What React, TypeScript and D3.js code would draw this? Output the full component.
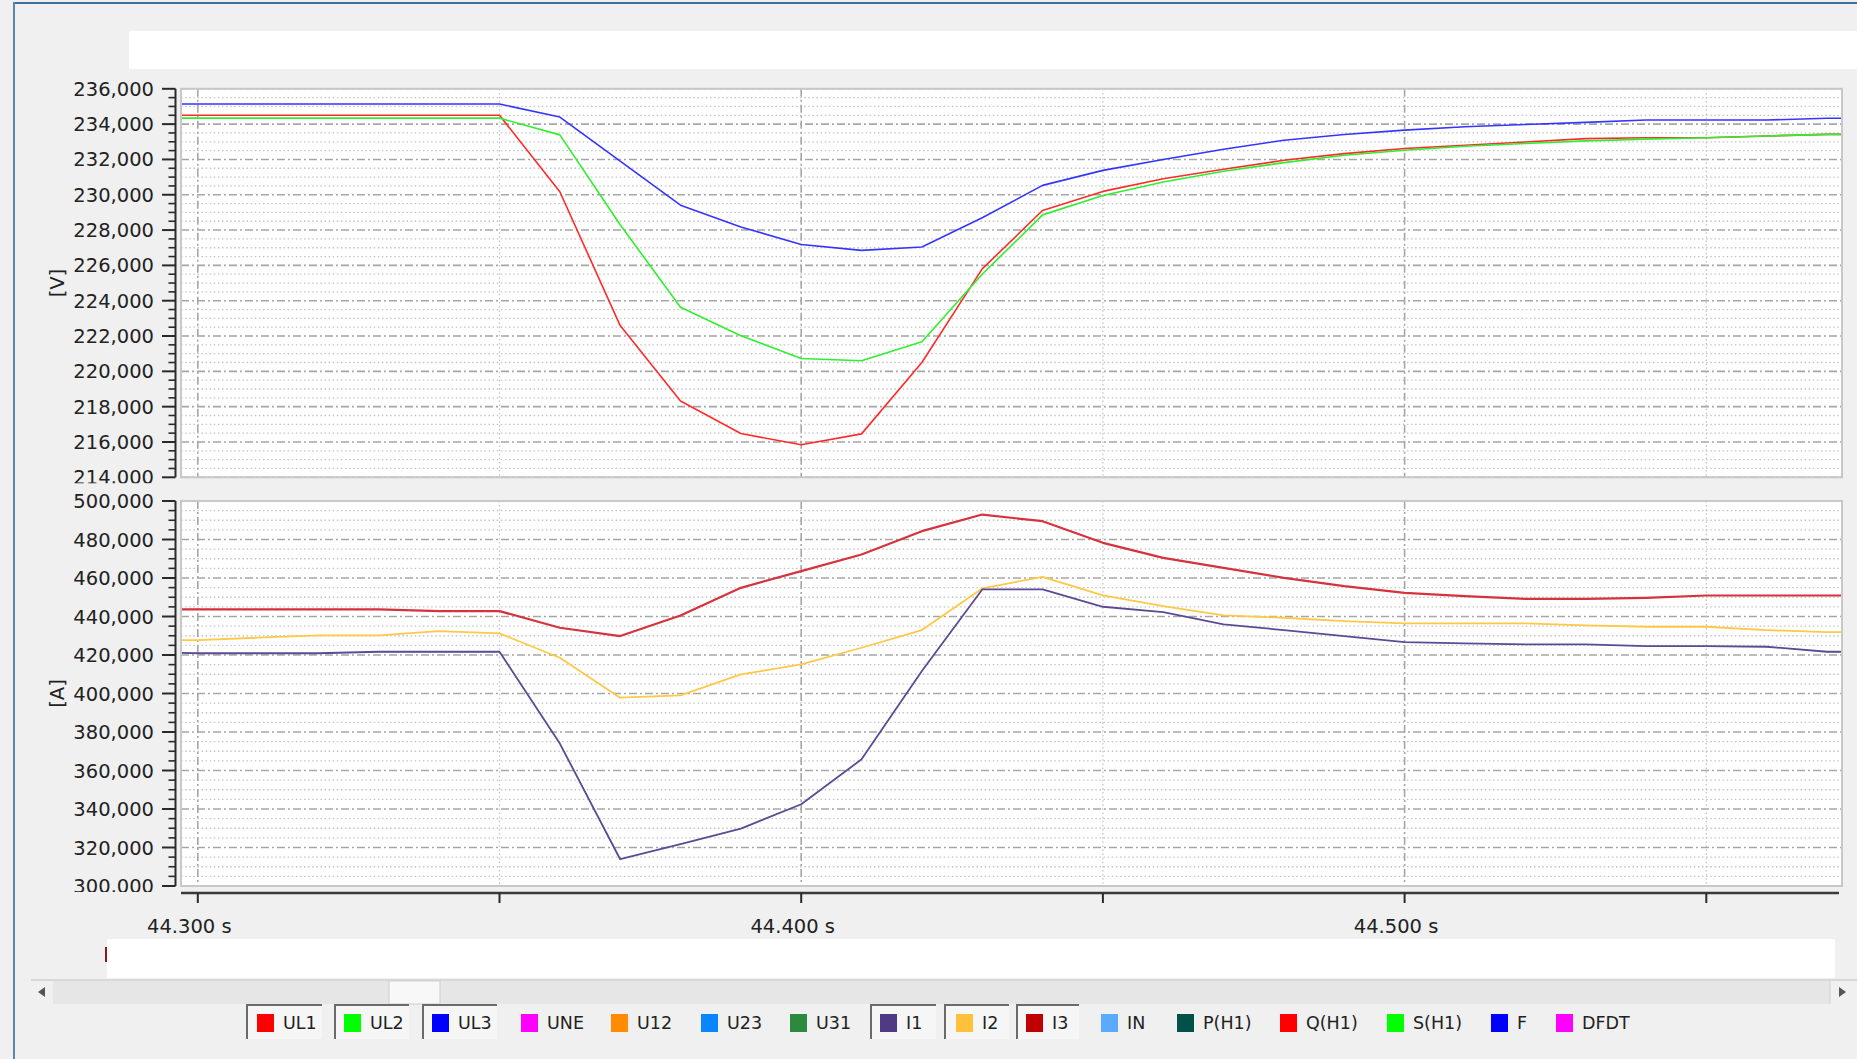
import React from "react";
import * as d3 from "d3";

// ---------- data ----------
const times = [44.29, 44.30, 44.31, 44.32, 44.33, 44.34, 44.35, 44.36, 44.37, 44.38, 44.39, 44.40, 44.41, 44.42, 44.43, 44.44, 44.45, 44.46, 44.47, 44.48, 44.49, 44.50, 44.51, 44.52, 44.53, 44.54, 44.55, 44.56, 44.57, 44.58];

// voltages [V]
const ul1 = [234.50, 234.50, 234.50, 234.50, 234.50, 234.50, 234.50, 230.17, 222.59, 218.32, 216.48, 215.84, 216.46, 220.50, 225.80, 229.11, 230.19, 230.91, 231.44, 231.95, 232.33, 232.62, 232.80, 232.99, 233.18, 233.23, 233.23, 233.33, 233.42, 233.42];
const ul2 = [234.34, 234.34, 234.34, 234.34, 234.34, 234.34, 234.34, 233.39, 228.30, 223.63, 222.02, 220.73, 220.60, 221.68, 225.50, 228.86, 229.96, 230.72, 231.33, 231.82, 232.24, 232.52, 232.75, 232.90, 233.05, 233.15, 233.23, 233.33, 233.42, 233.42];
const ul3 = [235.14, 235.14, 235.14, 235.14, 235.14, 235.14, 235.14, 234.40, 231.90, 229.41, 228.18, 227.18, 226.85, 227.04, 228.70, 230.53, 231.38, 232.00, 232.58, 233.09, 233.41, 233.66, 233.85, 233.98, 234.10, 234.23, 234.23, 234.23, 234.33, 234.33];

// currents [A]
const i1 = [421.70, 420.90, 420.90, 420.90, 421.70, 421.70, 421.70, 374.00, 313.90, 321.70, 329.83, 342.46, 365.80, 411.66, 454.05, 454.05, 445.06, 442.29, 435.89, 432.94, 429.83, 426.71, 426.02, 425.50, 425.50, 424.64, 424.64, 424.29, 421.70, 421.70];
const i2 = [427.75, 427.75, 429.00, 430.20, 430.20, 432.40, 431.20, 418.58, 397.82, 399.04, 409.94, 415.12, 423.77, 432.94, 454.57, 460.62, 450.93, 445.40, 440.56, 439.35, 437.62, 436.40, 436.40, 436.40, 435.36, 434.67, 434.67, 432.94, 431.90, 431.90];
const i3 = [443.67, 443.67, 443.67, 443.67, 443.67, 442.80, 442.80, 434.15, 429.83, 440.56, 454.90, 463.56, 472.20, 484.32, 492.97, 489.50, 478.27, 470.48, 465.29, 460.10, 455.78, 452.32, 450.59, 449.20, 449.20, 449.72, 450.90, 450.90, 450.90, 450.90];

const voltDomain = [214, 236];
const ampDomain = [300, 500];
const voltTicks = [214, 216, 218, 220, 222, 224, 226, 228, 230, 232, 234, 236];
const ampTicks = [300, 320, 340, 360, 380, 400, 420, 440, 460, 480, 500];
const timeTicks = [44.30, 44.35, 44.40, 44.45, 44.50, 44.55];
const timeLabels = [44.30, 44.40, 44.50];

const legendNames = ["UL1", "UL2", "UL3", "UNE", "U12", "U23", "U31", "I1", "I2", "I3", "IN", "P(H1)", "Q(H1)", "S(H1)", "F", "DFDT"];
const legendColors = ["#ff0000", "#00ff00", "#0000ff", "#ff00ff", "#ff8c00", "#0a84ff", "#2b8a3e", "#4f3a85", "#ffc03a", "#c00000", "#5aaaff", "#00514a", "#ff0000", "#00ff00", "#0000ff", "#ff00ff"];
const legendActive = [true, true, true, false, false, false, false, true, true, true, false, false, false, false, false, false];

// ---------- layout ----------
const W = 1857;
const H = 1059;
const PX0 = 181;
const PX1 = 1842;
const TOP_Y0 = 88.8;
const TOP_Y1 = 477.3;
const BOT_Y0 = 501;
const BOT_Y1 = 886;
const AXIS_X = 175.5;
const FONT = "'DejaVu Sans', Verdana, sans-serif";
const legendSwatchX = [257, 344, 432, 521, 611, 701, 790, 880, 956, 1026, 1101, 1177, 1280, 1387, 1491, 1556];
const legendFrames: Record<string, [number, number]> = {
  UL1: [246, 322], UL2: [334, 409], UL3: [422, 497], I1: [870, 936], I2: [944, 1009], I3: [1016, 1079],
};

const commaLocale = d3.formatLocale({ decimal: ",", thousands: ".", grouping: [3], currency: ["", ""] });
const fmtVal = commaLocale.format(".3f");
const fmtTime = d3.format(".3f");

const xScale = d3.scaleLinear().domain([44.3, 44.5]).range([197.8, 1404.6]);
const yTop = d3.scaleLinear().domain(voltDomain).range([TOP_Y1, TOP_Y0]);
const yBot = d3.scaleLinear().domain(ampDomain).range([BOT_Y1, BOT_Y0]);

function Panel({ y, ticks, minorStep, series, clipId, label }: any) {
  const [y0, y1] = [y.range()[1], y.range()[0]];
  const d0 = y.domain()[0];
  const d1 = y.domain()[1];
  const minor = d3.range(d0, d1 + 1e-9, minorStep).filter((v: number) => !ticks.some((t: number) => Math.abs(t - v) < 1e-6));
  const line = d3.line<number>().x((_, i) => xScale(times[i])).y((v) => y(v));
  return (
    <g>
      <defs>
        <clipPath id={clipId}>
          <rect x={PX0} y={y0} width={PX1 - PX0} height={y1 - y0} />
        </clipPath>
        <clipPath id={clipId + "lab"}>
          <rect x={0} y={y0 - 20} width={PX0} height={y1 - y0 + 26} />
        </clipPath>
      </defs>
      <rect x={PX0} y={y0} width={PX1 - PX0} height={y1 - y0} fill="#ffffff" />
      <g clipPath={`url(#${clipId})`}>
        {minor.map((v: number) => (
          <line key={"mh" + v} x1={PX0} x2={PX1} y1={y(v)} y2={y(v)} stroke="#c4c4c4" strokeWidth={1.3} strokeDasharray="1.5,2.6" />
        ))}
        {ticks.map((v: number) => (
          <line key={"Mh" + v} x1={PX0} x2={PX1} y1={y(v)} y2={y(v)} stroke="#a6a6a6" strokeWidth={1.6} strokeDasharray="8,3,2,3" />
        ))}
        {timeTicks.map((t) => {
          const major = timeLabels.some((l) => Math.abs(l - t) < 1e-9);
          return (
            <line key={"v" + t} x1={xScale(t)} x2={xScale(t)} y1={y0} y2={y1} stroke={major ? "#a6a6a6" : "#c4c4c4"} strokeWidth={major ? 1.6 : 1.3} strokeDasharray={major ? "8,3,2,3" : "1.5,2.6"} />
          );
        })}
        {series.map((s: any) => (
          <path key={s.name} d={line(s.values) || ""} fill="none" stroke={s.color} strokeWidth={s.width} strokeLinejoin="round" />
        ))}
      </g>
      <rect x={PX0} y={y0} width={PX1 - PX0} height={y1 - y0} fill="none" stroke="#c8c8c8" strokeWidth={2} />
      <line x1={AXIS_X} x2={AXIS_X} y1={y0} y2={y1} stroke="#2a2a2a" strokeWidth={2} />
      {ticks.map((v: number) => (
        <line key={"t" + v} x1={162} x2={AXIS_X} y1={y(v)} y2={y(v)} stroke="#2a2a2a" strokeWidth={2} />
      ))}
      {minor.map((v: number) => (
        <line key={"mt" + v} x1={168.5} x2={AXIS_X} y1={y(v)} y2={y(v)} stroke="#2a2a2a" strokeWidth={1.6} />
      ))}
      <g clipPath={`url(#${clipId}lab)`}>
        {ticks.map((v: number) => (
          <text key={"l" + v} x={154} y={y(v)} dy="0.36em" textAnchor="end" fontFamily={FONT} fontSize={19.5} fill="#222">
            {fmtVal(v)}
          </text>
        ))}
      </g>
      <text transform={`translate(57,${(y0 + y1) / 2}) rotate(-90)`} textAnchor="middle" dy="0.36em" fontFamily={FONT} fontSize={19.5} fill="#222">
        {label}
      </text>
    </g>
  );
}

export default function App() {
  React.useEffect(() => {
    document.body.style.margin = "0";
  }, []);
  const topSeries = [
    { name: "UL1", values: ul1, color: "#ff2a2a", width: 1.6 },
    { name: "UL2", values: ul2, color: "#2ef02e", width: 1.6 },
    { name: "UL3", values: ul3, color: "#3535ff", width: 1.6 },
  ];
  const botSeries = [
    { name: "I3", values: i3, color: "#d6323e", width: 2.2 },
    { name: "I2", values: i2, color: "#ffc845", width: 1.8 },
    { name: "I1", values: i1, color: "#5b4a94", width: 1.8 },
  ];
  return (
    <svg width={W} height={H} style={{ position: "absolute", left: 0, top: 0, display: "block" }}>
      <rect x={0} y={0} width={W} height={H} fill="#f0f0f0" />
      {/* window frame */}
      <line x1={14} x2={W} y1={3} y2={3} stroke="#3f6f9f" strokeWidth={2} />
      <line x1={14} x2={14} y1={2} y2={H} stroke="#5b86b4" strokeWidth={2} />
      {/* title box */}
      <rect x={129} y={31} width={W - 129} height={38} fill="#ffffff" />

      <Panel y={yTop} ticks={voltTicks} minorStep={0.5} series={topSeries} clipId="clipTop" label="[V]" />
      <Panel y={yBot} ticks={ampTicks} minorStep={5} series={botSeries} clipId="clipBot" label="[A]" />

      {/* time axis */}
      <line x1={PX0} x2={1839} y1={893} y2={893} stroke="#3a3a3a" strokeWidth={2.5} />
      {timeTicks.map((t) => (
        <line key={"xt" + t} x1={xScale(t)} x2={xScale(t)} y1={893} y2={903} stroke="#2a2a2a" strokeWidth={2} />
      ))}
      {timeLabels.map((t) => (
        <text key={"xl" + t} x={xScale(t) - 8.5} y={926} dy="0.36em" textAnchor="middle" fontFamily={FONT} fontSize={19.5} fill="#222">
          {fmtTime(t) + " s"}
        </text>
      ))}

      {/* lower white box and cursor mark */}
      <rect x={107} y={939} width={1728} height={39} fill="#ffffff" />
      <line x1={106} x2={106} y1={947} y2={962} stroke="#8b1a1a" strokeWidth={2} />

      {/* scrollbar */}
      <rect x={31} y={980} width={W - 31} height={24} fill="#e6e6e6" />
      <line x1={31} x2={W} y1={980} y2={980} stroke="#d2d2d2" strokeWidth={1.5} />
      <rect x={31} y={981} width={22} height={23} fill="#f0f0f0" />
      <path d="M38,992 L45,987 L45,997 Z" fill="#555" />
      <rect x={389} y={981} width={51} height={23} fill="#f8f8f8" stroke="#cdcdcd" strokeWidth={1} />
      <rect x={1830} y={981} width={27} height={23} fill="#f0f0f0" />
      <line x1={1830} x2={1830} y1={981} y2={1004} stroke="#d2d2d2" strokeWidth={1} />
      <path d="M1846,992 L1839,987 L1839,997 Z" fill="#555" />

      {/* legend */}
      {legendNames.map((name, i) => {
        const sx = legendSwatchX[i];
        const frame = legendActive[i] ? legendFrames[name] : null;
        return (
          <g key={name}>
            {frame && (
              <g>
                <rect x={frame[0]} y={1004} width={frame[1] - frame[0]} height={35} fill="#f6f6f6" />
                <path d={`M${frame[0] + 1},1039 L${frame[0] + 1},1005 L${frame[1]},1005`} fill="none" stroke="#6b6b6b" strokeWidth={2} />
              </g>
            )}
            <rect x={sx} y={1014} width={17} height={18} fill={legendColors[i]} />
            <text x={sx + 26} y={1023} dy="0.36em" fontFamily={FONT} fontSize={17.5} fill="#222">
              {name}
            </text>
          </g>
        );
      })}
    </svg>
  );
}
